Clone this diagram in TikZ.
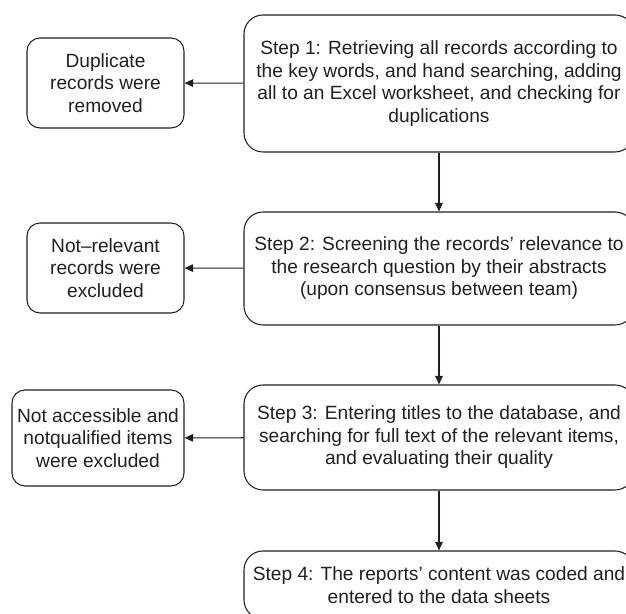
\documentclass[tikz,border=0pt]{standalone}
\usepackage{fontspec}
\setmainfont{Liberation Sans}
\usepackage{tikz}
\usetikzlibrary{arrows.meta}
\definecolor{ink}{HTML}{231F20}

\begin{document}
\begin{tikzpicture}[line width=0.6pt, draw=ink, text=ink,
  stepbox/.style={draw=ink, rounded corners=0.38cm, align=center, minimum width=7.8cm, inner sep=0pt,
    font=\fontsize{10.9}{12.8}\selectfont},
  outbox/.style={draw=ink, rounded corners=0.26cm, align=center, inner sep=0pt,
    font=\fontsize{10.9}{12.8}\selectfont},
  arr/.style={draw=ink, -{Triangle[length=0.17cm,width=0.15cm]}}]
\useasboundingbox (0,0) rectangle (12.52,12.28);
\node [stepbox, minimum height=2.74cm] (step1) at (8.78,10.61) {Step 1: Retrieving all records according to\\the key words, and hand searching, adding\\all to an Excel worksheet, and checking for\\duplications};
\node [stepbox, minimum height=2.26cm] (step2) at (8.78,6.91) {Step 2: Screening the records’ relevance to\\the research question by their abstracts\\(upon consensus between team)};
\node [stepbox, minimum height=2.1cm] (step3) at (8.78,3.53) {Step 3: Entering titles to the database, and\\searching for full text of the relevant items,\\and evaluating their quality};
\node [stepbox, minimum height=1.36cm] (step4) at (8.78,0.58) {Step 4: The reports’ content was coded and\\entered to the data sheets};
\node [outbox, minimum width=3.14cm, minimum height=1.8cm] (dup) at (2.11,10.62) {Duplicate\\records were\\removed};
\node [outbox, minimum width=3.14cm, minimum height=1.8cm] (notrel) at (2.11,6.92) {Not–relevant\\records were\\excluded};
\node [outbox, minimum width=3.44cm, minimum height=1.92cm] (notacc) at (1.96,3.52) {Not accessible and\\notqualified items\\were excluded};
\draw [arr] (step1) -- (step2);
\draw [arr] (step2) -- (step3);
\draw [arr] (step3) -- (step4);
\draw [arr] (step1) -- (dup);
\draw [arr] (step2) -- (notrel);
\draw [arr] (step3) -- (notacc);
\end{tikzpicture}
\end{document}
